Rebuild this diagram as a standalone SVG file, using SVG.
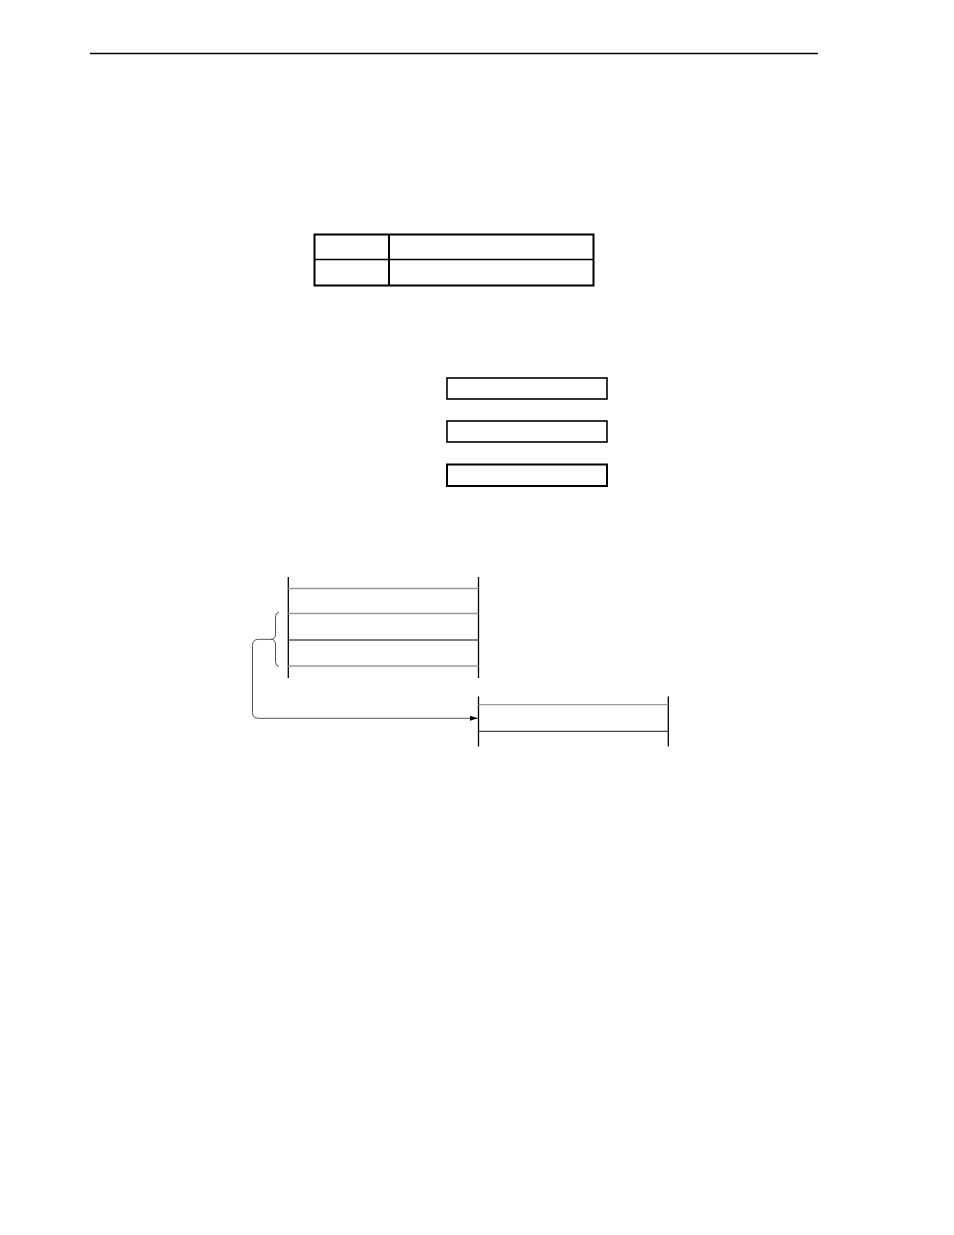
<svg xmlns="http://www.w3.org/2000/svg" width="954" height="1235" viewBox="0 0 954 1235">
<style>
.frame{fill:none;stroke:#000;stroke-width:2}
.box{fill:#fff;stroke:#000;stroke-width:1.6}
.vl{stroke:#000;stroke-width:1.3}
.gl{stroke:#999;stroke-width:1.3}
.bl{stroke:#000;stroke-width:1.2}
.dl{stroke:#444;stroke-width:1.2}
.conn{fill:none;stroke:#555;stroke-width:1}
</style>
<defs>
<marker id="arr" markerWidth="8" markerHeight="6" refX="8" refY="3" orient="auto" markerUnits="userSpaceOnUse">
<path d="M0,0.5 L8,3 L0,5.5 z" fill="#000"/>
</marker>
</defs>
<rect width="954" height="1235" fill="#fff"/>
<line x1="90" y1="53.5" x2="818" y2="53.5" stroke="#000" stroke-width="1.3"/>
<g id="table">
<rect class="frame" x="314.5" y="234.5" width="279" height="51"/>
<line x1="389" y1="234.5" x2="389" y2="285.5" stroke="#000" stroke-width="2"/>
<line x1="314.5" y1="259.5" x2="593.5" y2="259.5" stroke="#000" stroke-width="1.5"/>
</g>
<g id="box1"><rect class="box" x="447" y="378" width="160" height="21"/></g>
<g id="box2"><rect class="box" x="447" y="421" width="160" height="21"/></g>
<g id="box3"><rect class="frame" x="447" y="464.5" width="160" height="21.5"/></g>
<g id="memory1">
<line class="vl" x1="288.3" y1="577" x2="288.3" y2="678"/>
<line class="vl" x1="478.5" y1="577" x2="478.5" y2="678"/>
<line class="gl" x1="288.3" y1="588.5" x2="478.5" y2="588.5"/>
<line class="gl" x1="288.3" y1="613.5" x2="478.5" y2="613.5"/>
<line class="bl" x1="288.3" y1="640" x2="478.5" y2="640"/>
<line class="gl" x1="288.3" y1="666" x2="478.5" y2="666"/>
</g>
<g id="brace">
<path class="conn" d="M279,612 Q275.5,612.5 275.5,617 L275.5,634 Q275.5,639.3 271,639.3 Q275.5,639.3 275.5,645 L275.5,662 Q275.5,666 279,666.5"/>
</g>
<g id="memory2">
<line class="vl" x1="478.5" y1="696.5" x2="478.5" y2="746.5"/>
<line class="vl" x1="668.3" y1="696.5" x2="668.3" y2="746.5"/>
<line class="gl" x1="478.5" y1="704.7" x2="668.3" y2="704.7"/>
<line class="dl" x1="478.5" y1="731.3" x2="668.3" y2="731.3"/>
</g>
<g id="connectors">
<path class="conn" d="M271,639.3 L258.5,639.3 Q252.5,639.3 252.5,645.5 L252.5,712.5 Q252.5,718.3 258.5,718.3 L477.8,718.3" marker-end="url(#arr)"/>
</g>
</svg>
